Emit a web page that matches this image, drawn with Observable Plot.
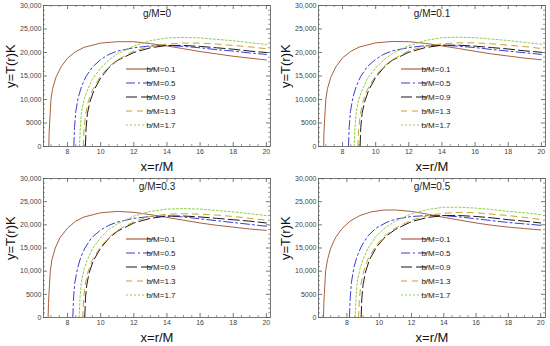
<!DOCTYPE html>
<html>
<head>
<meta charset="utf-8">
<script src="https://cdn.jsdelivr.net/npm/d3@7"></script>
<script src="https://cdn.jsdelivr.net/npm/@observablehq/plot@0.6"></script>
<style>
  html, body { margin: 0; padding: 0; background: #fff; }
  #wrap { position: relative; width: 550px; height: 346px; font-family: "Liberation Sans", Arial, sans-serif; }
  .p { position: absolute; }
</style>
</head>
<body>
<div id="wrap"></div>
<script>
// ---- labels / ticks ----
const panelTitles = ["g/M=0", "g/M=0.1", "g/M=0.3", "g/M=0.5"];
const bLabels = ["b/M=0.1", "b/M=0.5", "b/M=0.9", "b/M=1.3", "b/M=1.7"];
const xTicks = [8, 10, 12, 14, 16, 18, 20];
const yTicks = [0, 5000, 10000, 15000, 20000, 25000, 30000];
const xLabel = "x=r/M";
const yLabel = "y=T(r)K";

// ---- data: [r/M, T(K)] ----
// g/M = 0
const g0_b01 = [[6.87,0],[6.89,3000],[6.92,5000],[7.0,10000],[7.1,12300],[7.3,14700],[7.6,16900],[8,18800],[8.5,20200],[9,21100],[10,22000],[11,22300],[12,22300],[13,21900],[14,21400],[15,20800],[16,20200],[17,19700],[18,19200],[19,18800],[20,18400]];
const g0_b05 = [[8.38,0],[8.42,4000],[8.5,7500],[8.65,10500],[8.85,12800],[9.1,14800],[9.5,16900],[10,18500],[10.5,19600],[11,20300],[12,21000],[13,21400],[14,21500],[15,21300],[16,21000],[17,20600],[18,20300],[19,19900],[20,19600]];
const g0_b09 = [[9.08,0],[9.12,4000],[9.2,7000],[9.35,9500],[9.6,12000],[10,14600],[10.5,16800],[11,18300],[12,20000],[13,21000],[14,21500],[15,21500],[16,21300],[17,21000],[18,20700],[19,20300],[20,20000]];
const g0_b13 = [[8.95,0],[9.0,4000],[9.1,7000],[9.25,9500],[9.5,12000],[10,15000],[10.5,17000],[11,18400],[12,20300],[13,21300],[14,21800],[15,22000],[16,22000],[17,21800],[18,21500],[19,21200],[20,20800]];
const g0_b17 = [[8.72,0],[8.77,4000],[8.85,7500],[9.0,10000],[9.2,12000],[9.5,14300],[10,16700],[10.5,18400],[11,19700],[12,21400],[13,22500],[14,23100],[15,23200],[16,23100],[17,22800],[18,22500],[19,22100],[20,21700]];
// g/M = 0.1
const g1_b01 = [[6.86,0],[6.88,3000],[6.91,5000],[6.99,10000],[7.09,12300],[7.29,14700],[7.59,16900],[8,18850],[8.5,20250],[9,21150],[10,22050],[11,22350],[12,22300],[13,21950],[14,21400],[15,20850],[16,20250],[17,19700],[18,19250],[19,18800],[20,18450]];
const g1_b05 = [[8.36,0],[8.4,4000],[8.48,7500],[8.63,10500],[8.83,12800],[9.08,14800],[9.48,16950],[10,18550],[10.5,19650],[11,20350],[12,21050],[13,21450],[14,21550],[15,21350],[16,21050],[17,20650],[18,20300],[19,19950],[20,19600]];
const g1_b09 = [[9.06,0],[9.1,4000],[9.18,7000],[9.33,9500],[9.58,12000],[10,14700],[10.5,16850],[11,18350],[12,20050],[13,21050],[14,21550],[15,21550],[16,21350],[17,21050],[18,20750],[19,20350],[20,20050]];
const g1_b13 = [[8.93,0],[8.98,4000],[9.08,7000],[9.23,9500],[9.48,12000],[10,15100],[10.5,17050],[11,18450],[12,20350],[13,21350],[14,21850],[15,22050],[16,22050],[17,21850],[18,21550],[19,21250],[20,20850]];
const g1_b17 = [[8.7,0],[8.75,4000],[8.83,7500],[8.98,10000],[9.18,12000],[9.48,14300],[10,16800],[10.5,18450],[11,19750],[12,21450],[13,22550],[14,23150],[15,23250],[16,23150],[17,22850],[18,22550],[19,22150],[20,21750]];
// g/M = 0.3
const g3_b01 = [[6.83,0],[6.85,3000],[6.88,5000],[6.96,10000],[7.06,12500],[7.26,15000],[7.56,17300],[8,19300],[8.5,20800],[9,21700],[10,22600],[11,22900],[12,22700],[13,22200],[14,21600],[15,21000],[16,20400],[17,19900],[18,19500],[19,19100],[20,18800]];
const g3_b05 = [[8.32,0],[8.36,4000],[8.44,7500],[8.6,10600],[8.8,13000],[9.05,15000],[9.45,17200],[10,18900],[10.5,19900],[11,20600],[12,21400],[13,21800],[14,21900],[15,21700],[16,21300],[17,20900],[18,20500],[19,20100],[20,19700]];
const g3_b09 = [[9.04,0],[9.08,4000],[9.16,7000],[9.3,9600],[9.55,12200],[10,15000],[10.5,17100],[11,18600],[12,20400],[13,21400],[14,21900],[15,21900],[16,21700],[17,21400],[18,21100],[19,20800],[20,20400]];
const g3_b13 = [[8.92,0],[8.97,4000],[9.07,7100],[9.22,9700],[9.48,12300],[10,15300],[10.5,17300],[11,18800],[12,20700],[13,21800],[14,22300],[15,22400],[16,22300],[17,22100],[18,21800],[19,21400],[20,21000]];
const g3_b17 = [[8.7,0],[8.75,4000],[8.83,7600],[8.98,10200],[9.18,12300],[9.48,14700],[10,17300],[10.5,19000],[11,20200],[12,21900],[13,22900],[14,23400],[15,23500],[16,23400],[17,23100],[18,22800],[19,22400],[20,22000]];
// g/M = 0.5
const g5_b01 = [[6.55,0],[6.57,3000],[6.6,5000],[6.68,10000],[6.8,12500],[7.0,15000],[7.3,17300],[7.7,19200],[8.2,20800],[8.8,22000],[9.5,22800],[10.3,23200],[11,23200],[12,22900],[13,22300],[14,21600],[15,21000],[16,20400],[17,19900],[18,19500],[19,19200],[20,18900]];
const g5_b05 = [[8.16,0],[8.2,4000],[8.28,7600],[8.43,10800],[8.63,13200],[8.9,15400],[9.3,17600],[9.8,19300],[10.5,20600],[11,21200],[12,21800],[13,22000],[14,22000],[15,21700],[16,21300],[17,20900],[18,20500],[19,20200],[20,19900]];
const g5_b09 = [[8.88,0],[8.92,4000],[9.0,7100],[9.15,9800],[9.4,12500],[9.85,15300],[10.4,17500],[11,19000],[12,20700],[13,21600],[14,22000],[15,22000],[16,21800],[17,21500],[18,21100],[19,20800],[20,20400]];
const g5_b13 = [[8.72,0],[8.77,4000],[8.87,7200],[9.03,9900],[9.3,12600],[9.8,15500],[10.3,17500],[11,19300],[12,21000],[13,22000],[14,22500],[15,22700],[16,22600],[17,22300],[18,22000],[19,21600],[20,21150]];
const g5_b17 = [[8.51,0],[8.56,4000],[8.64,7700],[8.8,10400],[9.0,12500],[9.3,14900],[9.8,17500],[10.3,19200],[11,20800],[12,22400],[13,23300],[14,23800],[15,23800],[16,23600],[17,23300],[18,22900],[19,22600],[20,22200]];

const panelCurves = [
  [g0_b01, g0_b05, g0_b09, g0_b13, g0_b17],
  [g1_b01, g1_b05, g1_b09, g1_b13, g1_b17],
  [g3_b01, g3_b05, g3_b09, g3_b13, g3_b17],
  [g5_b01, g5_b05, g5_b09, g5_b13, g5_b17]
];
const xDomains = [[6.55, 20.25], [6.55, 20.25], [6.55, 20.25], [6.24, 20.3]];

// ---- styles ----
const colors = ["#a8603f", "#3c3cd4", "#1a1a1a", "#c9a22e", "#8fcf4c"];
const dashes = ["none", "9,3,2,3", "11,4", "6,5", "2,2"];
const layout = [
  {left: 0,   top: 0,   mt: 5, mb: 27, legendTop: 64},
  {left: 275, top: 0,   mt: 5, mb: 27, legendTop: 64},
  {left: 0,   top: 173, mt: 5, mb: 29, legendTop: 61},
  {left: 275, top: 173, mt: 5, mb: 29, legendTop: 61}
];

const fmt = d => d >= 10000 ? d3.format(",")(d) : String(d);
const wrap = document.getElementById("wrap");

panelCurves.forEach((curves, pi) => {
  const L = layout[pi];
  const W = 275, H = 173, ml = 43, mr = 5;
  const fw = W - ml - mr, fh = H - L.mt - L.mb;
  const xd = xDomains[pi];
  const xMinor = d3.range(Math.ceil(xd[0] * 2) / 2, xd[1], 0.5).filter(v => !xTicks.includes(v));
  const yMinor = d3.range(0, 30001, 1000).filter(v => !yTicks.includes(v));
  const marks = [
    Plot.frame({stroke: "#555", strokeWidth: 0.8}),
    // inward ticks on all four sides
    Plot.ruleX(xTicks, {insetTop: fh - 4, stroke: "#555", strokeWidth: 0.8}),
    Plot.ruleX(xTicks, {insetBottom: fh - 4, stroke: "#555", strokeWidth: 0.8}),
    Plot.ruleX(xMinor, {insetTop: fh - 2, stroke: "#555", strokeWidth: 0.6}),
    Plot.ruleX(xMinor, {insetBottom: fh - 2, stroke: "#555", strokeWidth: 0.6}),
    Plot.ruleY(yTicks, {insetRight: fw - 4, stroke: "#555", strokeWidth: 0.8}),
    Plot.ruleY(yTicks, {insetLeft: fw - 4, stroke: "#555", strokeWidth: 0.8}),
    Plot.ruleY(yMinor, {insetRight: fw - 2, stroke: "#555", strokeWidth: 0.6}),
    Plot.ruleY(yMinor, {insetLeft: fw - 2, stroke: "#555", strokeWidth: 0.6}),
    Plot.axisX({ticks: xTicks, tickSize: 0, tickPadding: 3, fontSize: 7, fill: "#444", tickFormat: d => String(d), label: null}),
    Plot.axisY({ticks: yTicks, tickSize: 0, tickPadding: 2, fontSize: 7, fill: "#444", tickFormat: fmt, label: null}),
    ...curves.map((c, i) => Plot.line(c, {
      x: d => d[0], y: d => d[1], stroke: colors[i], strokeWidth: 1,
      strokeDasharray: dashes[i], clip: true
    })),
    Plot.text([panelTitles[pi]], {frameAnchor: "top", lineAnchor: "middle", dy: 8, fontSize: 10, fill: "#222"}),
    Plot.text([xLabel], {frameAnchor: "bottom", lineAnchor: "middle", dy: 20, fontSize: 13, fill: "#111"}),
    Plot.text([yLabel], {frameAnchor: "left", lineAnchor: "middle", dx: -33, dy: 12, rotate: -90, fontSize: 13, fill: "#111"})
  ];
  const chart = Plot.plot({
    width: W, height: H,
    marginLeft: ml, marginRight: mr, marginTop: L.mt, marginBottom: L.mb,
    x: {domain: xd},
    y: {domain: [0, 30000]},
    style: {fontFamily: "'Liberation Sans', Arial, sans-serif", background: "transparent", overflow: "visible"},
    marks
  });
  // in-plot legend
  const svg = d3.select(chart);
  const g = svg.append("g").attr("font-family", "'Liberation Sans', Arial, sans-serif").attr("font-size", 8);
  bLabels.forEach((lab, i) => {
    const y = L.mt + L.legendTop + i * 14;
    g.append("line").attr("x1", 126).attr("x2", 155).attr("y1", y).attr("y2", y)
      .attr("stroke", colors[i]).attr("stroke-width", 1.2)
      .attr("stroke-dasharray", dashes[i] === "none" ? null : dashes[i]);
    g.append("text").attr("x", 161).attr("y", y).attr("dy", "0.35em").attr("fill", "#222").text(lab);
  });
  const div = document.createElement("div");
  div.className = "p";
  div.style.left = L.left + "px";
  div.style.top = L.top + "px";
  div.appendChild(chart);
  wrap.appendChild(div);
});
</script>
</body>
</html>
